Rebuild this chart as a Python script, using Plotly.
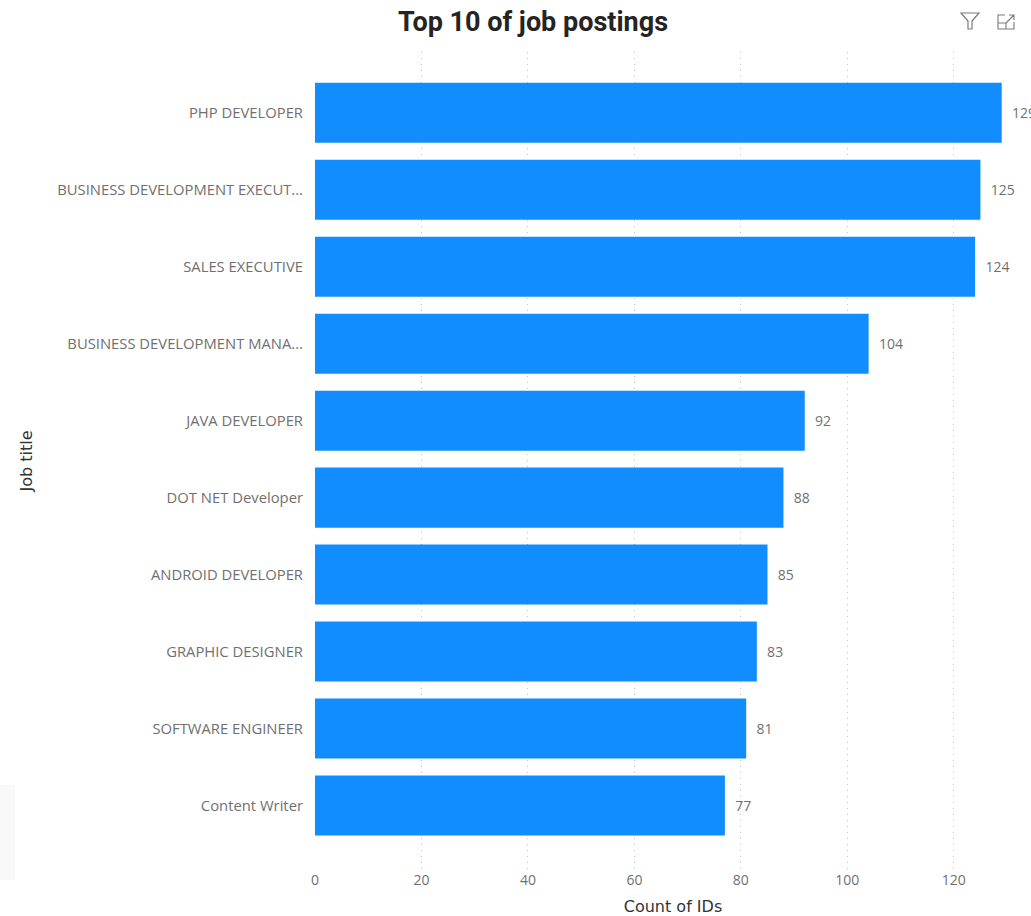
import plotly.graph_objects as go

job_titles = ["PHP DEVELOPER", "BUSINESS DEVELOPMENT EXECUT...", "SALES EXECUTIVE",
              "BUSINESS DEVELOPMENT MANA...", "JAVA DEVELOPER", "DOT NET Developer",
              "ANDROID DEVELOPER", "GRAPHIC DESIGNER", "SOFTWARE ENGINEER", "Content Writer"]
counts = [129, 125, 124, 104, 92, 88, 85, 83, 81, 77]
x_ticks = [0, 20, 40, 60, 80, 100, 120]

W, H = 1031, 916
L, R, T, B = 315, 1031, 52, 870

def px(x):
    return (x - L) / (R - L)

def py(y):
    return (B - y) / (B - T)

fig = go.Figure(go.Bar(
    x=counts, y=job_titles, orientation="h",
    marker=dict(color="#118DFF", line=dict(width=0)),
    text=["\u00a0\u00a0" + str(c) for c in counts],
    textposition="outside", cliponaxis=False, constraintext="none",
    textfont=dict(family="Open Sans", size=14, color="#707070"),
    hoverinfo="skip",
))

fig.update_layout(
    width=W, height=H, autosize=False,
    margin=dict(l=L, r=W - R, t=T, b=H - B, pad=0),
    paper_bgcolor="white", plot_bgcolor="white",
    bargap=0.22, showlegend=False,
    title=dict(text="<b>Top 10 of job postings</b>", x=533 / W, xanchor="center",
               y=1 - 22 / H, yanchor="middle",
               font=dict(family="Roboto", size=27, color="#252423")),
    xaxis=dict(range=[0, 134.5], tickvals=x_ticks, showgrid=True, gridcolor="#C4C4C4",
               griddash="1px,5px", gridwidth=1, zeroline=False, showline=False, ticks="",
               tickfont=dict(family="Open Sans", size=14, color="#707070"),
               title=dict(text="Count of IDs", standoff=12,
                          font=dict(family="DejaVu Sans", size=16, color="#333333"))),
    yaxis=dict(range=[9.838, -0.79], type="category", showgrid=False, zeroline=False,
               showline=False, ticks="", ticklabelstandoff=11,
               tickfont=dict(family="Open Sans", size=14.8, color="#707070"),
               title=dict(text="Job title", standoff=20,
                          font=dict(family="DejaVu Sans", size=16, color="#333333"))),
    shapes=[
        # filter icon
        dict(type="path", xref="paper", yref="paper",
             path=f"M {px(961)} {py(13)} L {px(979)} {py(13)} L {px(972)} {py(21)} L {px(972)} {py(29)} "
                  f"L {px(968)} {py(29)} L {px(968)} {py(21)} Z",
             line=dict(color="#7A7A7A", width=1.2), fillcolor="rgba(0,0,0,0)"),
        # focus-mode icon
        dict(type="path", xref="paper", yref="paper",
             path=f"M {px(1005)} {py(15)} L {px(998)} {py(15)} L {px(998)} {py(29)} L {px(1014)} {py(29)} L {px(1014)} {py(22)} "
                  f"M {px(998)} {py(23)} L {px(1006)} {py(23)} L {px(1006)} {py(29)} "
                  f"M {px(1006)} {py(23)} L {px(1014)} {py(15)} M {px(1009)} {py(15)} L {px(1014)} {py(15)} L {px(1014)} {py(20)}",
             line=dict(color="#7A7A7A", width=1.1)),
        # faint background remnant
        dict(type="rect", xref="paper", yref="paper", layer="below", x0=px(0), x1=px(15),
             y0=py(880), y1=py(785), fillcolor="#F9F9F9", line=dict(width=0)),
    ],
)

fig.write_html("out.html", config={"displayModeBar": False}, post_script="document.body.style.margin='0';")
